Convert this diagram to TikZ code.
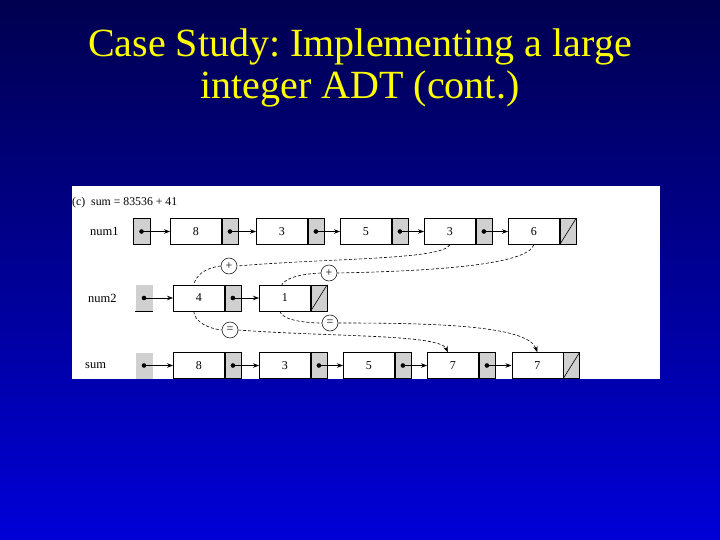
\documentclass[tikz,border=0pt]{standalone}
\usepackage{fontspec}
\setmainfont{Liberation Serif}
\usetikzlibrary{arrows.meta}
\frenchspacing
\definecolor{bgtop}{HTML}{00004F}
\definecolor{bgmid}{HTML}{000098}
\definecolor{bgbot}{HTML}{0000D8}
\definecolor{ptrgray}{HTML}{D0D0D0}
\definecolor{titleyellow}{HTML}{FFFF00}
\tikzset{
  datapart/.style={draw, line width=0.6pt, minimum width=51pt, minimum height=26pt, inner sep=0pt, anchor=west, font=\fontsize{12}{14}\selectfont},
  ptrpart/.style={draw, line width=0.6pt, fill=ptrgray, minimum width=16pt, minimum height=26pt, inner sep=0pt, anchor=west},
  headbox/.style={draw, line width=0.6pt, fill=ptrgray, minimum width=17pt, minimum height=26pt, inner sep=0pt},
  headnb/.style={fill=ptrgray, minimum width=17pt, minimum height=26pt, inner sep=0pt},
  dot/.style={circle, fill=black, inner sep=0pt, minimum size=4.6pt},
  link/.style={line width=0.7pt, -{Stealth[length=6pt,width=4.5pt]}},
  opcircle/.style={circle, draw, line width=0.5pt, fill=white, minimum size=16pt, inner sep=0pt, font=\fontsize{12}{14}\selectfont},
  flow/.style={dashed, dash pattern=on 3pt off 2pt, line width=0.6pt},
  flowarrow/.style={flow, -{Stealth[length=6pt,width=4.5pt]}},
  rowlabel/.style={anchor=west, inner sep=0pt, font=\fontsize{12.5}{14}\selectfont},
  titletext/.style={anchor=base, inner sep=0pt, text=titleyellow, font=\fontsize{40}{44}\selectfont}
}
\begin{document}
\begin{tikzpicture}[x=1pt, y=-1pt]
\useasboundingbox (0,0) rectangle (720,540);
\shade[top color=bgtop, middle color=bgmid, bottom color=bgbot] (0,0) rectangle (720,540);
\node[titletext] (t1) at (360,57) {Case Study: Implementing a large};
\node[titletext] (t2) at (360,99) {integer ADT (cont.)};
% panel
\fill[white] (72,186) rectangle (660,379);
\node[anchor=base west, inner sep=0pt, font=\fontsize{11.8}{14}\selectfont] (cap) at (72,206) {(c)\ \ sum = 83536 + 41};
% row labels
\node[rowlabel] (l1) at (90,231.5) {num1};
\node[rowlabel] (l2) at (88,298) {num2};
\node[rowlabel] (l3) at (85,365.5) {sum};
% num1
\node[headbox] (h1) at (141.5,231.5) {};
\node[datapart] (a1) at (170,231.5) {8};
\node[ptrpart] (a1p) at (a1.east) {};
\node[datapart] (a2) at (256,231.5) {3};
\node[ptrpart] (a2p) at (a2.east) {};
\node[datapart] (a3) at (340,231.5) {5};
\node[ptrpart] (a3p) at (a3.east) {};
\node[datapart] (a4) at (424,231.5) {3};
\node[ptrpart] (a4p) at (a4.east) {};
\node[datapart] (a5) at (508,231.5) {6};
\node[ptrpart] (a5p) at (a5.east) {};
\draw[line width=0.6pt] (a5p.south west) -- (a5p.north east);
% num2
\node[headnb] (h2) at (144,298) {};
\draw[line width=0.6pt] (h2.south west) -- (h2.south east);
\node[datapart] (b1) at (173,298) {4};
\node[ptrpart] (b1p) at (b1.east) {};
\node[datapart] (b2) at (259,298) {1};
\node[ptrpart] (b2p) at (b2.east) {};
\draw[line width=0.6pt] (b2p.south west) -- (b2p.north east);
% sum
\node[headnb] (h3) at (144,365.5) {};
\node[datapart] (s1) at (173,365.5) {8};
\node[ptrpart] (s1p) at (s1.east) {};
\node[datapart] (s2) at (259,365.5) {3};
\node[ptrpart] (s2p) at (s2.east) {};
\node[datapart] (s3) at (343,365.5) {5};
\node[ptrpart] (s3p) at (s3.east) {};
\node[datapart] (s4) at (427,365.5) {7};
\node[ptrpart] (s4p) at (s4.east) {};
\node[datapart] (s5) at (511.5,365.5) {7};
\node[ptrpart] (s5p) at (s5.east) {};
\draw[line width=0.6pt] (s5p.south west) -- (s5p.north east);
% dots and links
\foreach \p/\q in {h1/a1, a1p/a2, a2p/a3, a3p/a4, a4p/a5, h2/b1, b1p/b2, h3/s1, s1p/s2, s2p/s3, s3p/s4, s4p/s5}{
  \node[dot] (d-\p) at (\p.center) {};
  \draw[link] (d-\p.center) -- (\q.west);
}
% operator circles
\node[opcircle] (p1) at (229,266) {+};
\node[opcircle] (p2) at (329,273) {+};
\node[opcircle] (e1) at (230,330) {=};
\node[opcircle] (e2) at (330,323) {=};
% dashed flows
\draw[flow] (a4.south) .. controls (442,260) and (330,258) .. (p1.east);
\draw[flow] (a5.south) .. controls (528,264) and (440,271) .. (p2.east);
\draw[flow] (p1.west) .. controls (205,268) and (196,275) .. ([xshift=-5pt]b1.north);
\draw[flow] (p2.west) .. controls (300,274) and (286,278) .. ([xshift=-3pt]b2.north);
\draw[flow] ([xshift=-5pt]b1.south) .. controls (194,322) and (210,329) .. (e1.west);
\draw[flowarrow] (e1.east) .. controls (330,337) and (440,334) .. ([xshift=-5pt]s4.north);
\draw[flow] ([xshift=-5pt]b2.south) .. controls (282,320) and (305,323) .. (e2.west);
\draw[flowarrow] (e2.east) .. controls (430,323) and (528,325) .. (s5.north);
\end{tikzpicture}
\end{document}
